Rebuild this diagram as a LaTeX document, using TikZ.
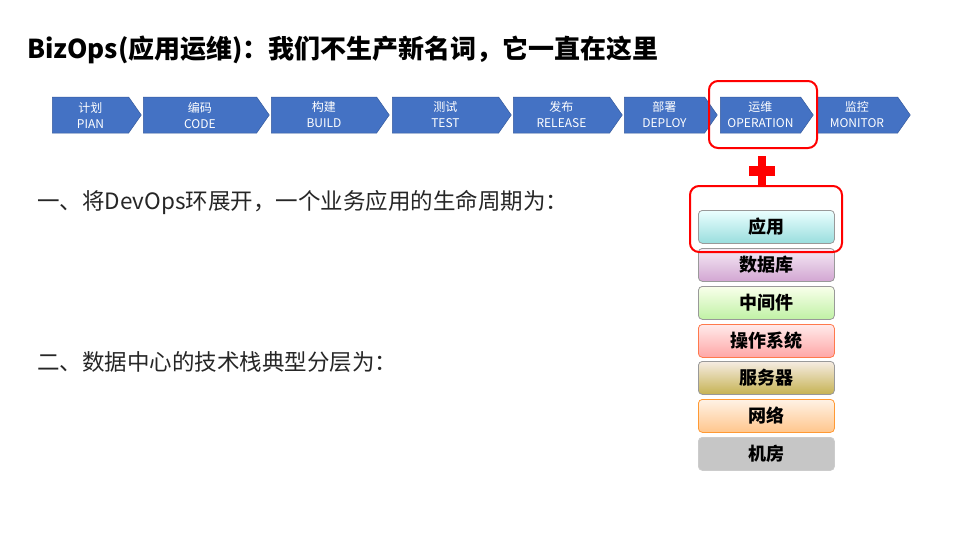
\documentclass[tikz,border=0pt]{standalone}
\usepackage{fontspec}
\setmainfont{Noto Sans CJK SC}
\usetikzlibrary{shapes.symbols}
\definecolor{bl}{HTML}{4472C4}
\tikzset{x=1pt,y=-1pt,
chev/.style={shape=signal,signal to=east,signal pointer angle=110,fill=bl,draw=bl!80!black,line width=0.5pt,minimum height=36pt,inner sep=0pt,text=white,font=\fontsize{12}{16}\selectfont,align=center,anchor=west},
lay/.style={draw=gray!80,line width=0.8pt,rounded corners=4pt,minimum width=136pt,minimum height=33pt,font=\fontsize{18}{20}\selectfont\bfseries,anchor=north west,inner sep=0pt},
redbox/.style={draw=red,line width=2pt,rounded corners=9pt},
body/.style={anchor=west,font=\fontsize{22.5}{26}\selectfont,text=black!85,inner sep=0pt}}
\begin{document}
\begin{tikzpicture}
\useasboundingbox (0,0) rectangle (959,539);
\node[anchor=west,font=\fontsize{26}{30}\selectfont\bfseries,inner sep=0pt] (title) at (27,50) {BizOps(应用运维)：我们不生产新名词，它一直在这里};
\foreach \n/\a/\b/\c/\d in {p/52/141/计划/PIAN,c/143/269/编码/CODE,b/271/389/构建/BUILD,t/392/511/测试/TEST,r/513/622/发布/RELEASE,d/624/717/部署/DEPLOY,o/720/813/运维/OPERATION,m/816/910/监控/MONITOR}
  \node[chev,minimum width={\b-\a}] (\n) at (\a,115) {\c\\\d};
\draw[redbox] (709,81) rectangle (817,148);
\fill[red] (758,156) rectangle (766,186);
\fill[red] (749,166) rectangle (775,176);
\node[lay,top color=cyan!8,bottom color=cyan!35!teal!40] (l1) at (698,210) {应用};
\node[lay,top color=violet!8,bottom color=violet!35] (l2) at (698,248) {数据库};
\node[lay,top color=green!8!lime!8,bottom color=olive!35!green!30] (l3) at (698,286) {中间件};
\node[lay,draw=red!50!orange!70,top color=red!8,bottom color=red!35] (l4) at (698,324) {操作系统};
\node[lay,top color=brown!15!white,bottom color=olive!50!brown!60] (l5) at (698,361) {服务器};
\node[lay,draw=orange!80,top color=orange!10,bottom color=orange!45] (l6) at (698,399) {网络};
\node[lay,draw=gray!40,fill=gray!45] (l7) at (698,437) {机房};
\draw[redbox] (690,186) rectangle (842,252);
\node[body] (t1) at (37,202) {一、将DevOps环展开，一个业务应用的生命周期为：};
\node[body] (t2) at (37,362) {二、数据中心的技术栈典型分层为：};
\end{tikzpicture}
\end{document}
